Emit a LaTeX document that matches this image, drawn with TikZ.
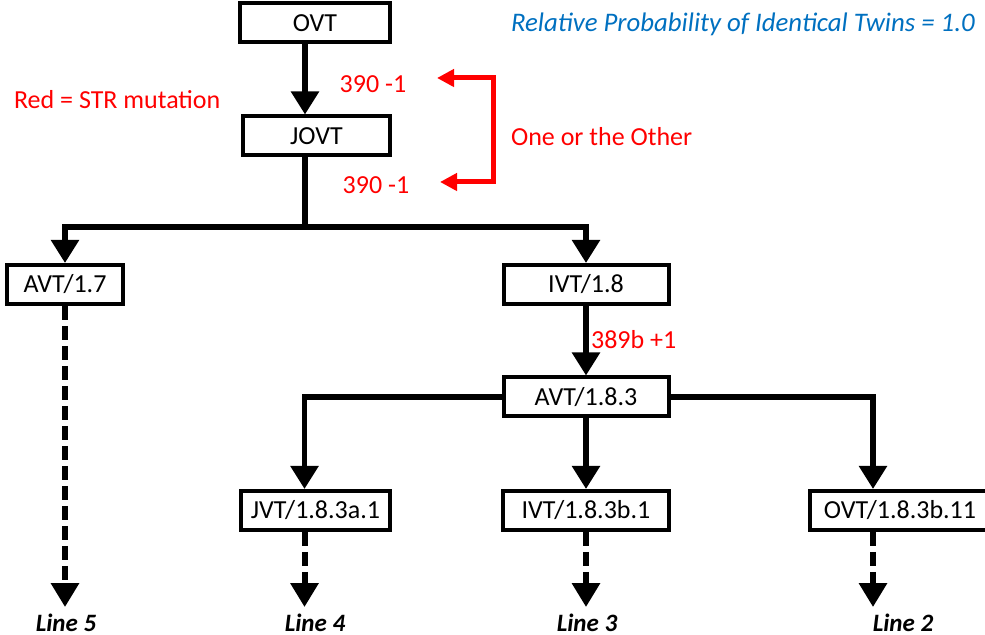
\documentclass[tikz,border=0pt]{standalone}
\usepackage{fontspec}
\setmainfont{Carlito}
\usetikzlibrary{arrows.meta}
\definecolor{mutred}{RGB}{255,0,0}
\definecolor{probblue}{RGB}{0,112,192}
\tikzset{
  vt/.style={draw, line width=2pt, minimum height=19.5pt, inner sep=1pt,
    text height=8.5pt, text depth=0pt, font=\fontsize{13}{15}\selectfont},
  tree/.style={line width=2.75pt, -{Triangle[width=13.5pt,length=11.5pt]}},
  trunk/.style={line width=2.75pt},
  dtree/.style={line width=3pt, dash pattern=on 7pt off 3pt,
    -{Triangle[width=13.5pt,length=12pt]}},
  linelab/.style={font=\fontsize{12.5}{14}\selectfont\bfseries\itshape},
  mut/.style={text=mutred, font=\fontsize{13}{15}\selectfont},
  bracket/.style={draw=mutred, line width=2.5pt,
    {Triangle[width=8.5pt,length=8.5pt]}-{Triangle[width=8.5pt,length=8.5pt]}},
}
\begin{document}
\begin{tikzpicture}[x=0.5pt,y=-0.5pt]
    \useasboundingbox (0,0) rectangle (985,635);

    \node[vt, minimum width=75pt] (OVT) at (315,23) {OVT};
    \node[vt, minimum width=73.5pt] (JOVT) at (316.5,136) {JOVT};
    \node[vt, minimum width=58pt] (AVT17) at (65,284.5) {AVT/1.7};
    \node[vt, minimum width=82.5pt] (IVT18) at (586,284.5) {IVT/1.8};
    \node[vt, minimum width=82.5pt] (AVT183) at (586,397) {AVT/1.8.3};
    \node[vt, minimum width=74.5pt] (JVT) at (315.5,510.5) {JVT/1.8.3a.1};
    \node[vt, minimum width=83pt] (IVT183) at (586,510.5) {IVT/1.8.3b.1};
    \node[vt, minimum width=90pt] (OVT183) at (900,510.5) {OVT/1.8.3b.11};

    \node[linelab] (L5) at (66,623) {Line 5};
    \node[linelab] (L4) at (315,623) {Line 4};
    \node[linelab] (L3) at (587,623) {Line 3};
    \node[linelab] (L2) at (903,623) {Line 2};

    \coordinate (jn) at (305,227);
    \draw[tree] (OVT.south -| jn) -- (JOVT.north -| jn);
    \draw[trunk] (JOVT.south -| jn) -- (jn);
    \draw[tree] (jn) -| (AVT17.north);
    \draw[tree] (jn) -| (IVT18.north);
    \draw[tree] (IVT18) -- (AVT183);
    \draw[tree] (AVT183.west) -| ([xshift=-5.5pt]JVT.north);
    \draw[tree] (AVT183) -- (IVT183);
    \draw[tree] (AVT183.east) -| ([xshift=-13.5pt]OVT183.north);

    \draw[dtree] (AVT17.south) -- (AVT17.south |- L5.north);
    \draw[dtree] ([xshift=-5.5pt]JVT.south) -- ([xshift=-5.5pt]JVT.south |- L4.north);
    \draw[dtree] (IVT183.south) -- (IVT183.south |- L3.north);
    \draw[dtree] ([xshift=-13.5pt]OVT183.south) -- ([xshift=-13.5pt]OVT183.south |- L2.north);

    % mutations
    \node[mut, anchor=west] (key) at (7,100) {Red = STR mutation};
    \node[mut] (m1) at (373,84) {390 -1};
    \node[mut] (m2) at (376,185) {390 -1};
    \node[mut, anchor=west] (m3) at (584,340) {389b +1};
    \node[mut, anchor=west] (oto) at (504,137) {One or the Other};
    \node[anchor=west, text=probblue, font=\fontsize{13.4}{16}\selectfont\itshape] (prob) at (504,24)
      {Relative Probability of Identical Twins = 1.0};

    \coordinate (t1) at (437,78);
    \coordinate (t2) at (440,182);
    \coordinate (b1) at (493,78);
    \coordinate (b2) at (493,182);
    \draw[bracket] (t1) -- (b1) -- (b2) -- (t2);
\end{tikzpicture}
\end{document}
